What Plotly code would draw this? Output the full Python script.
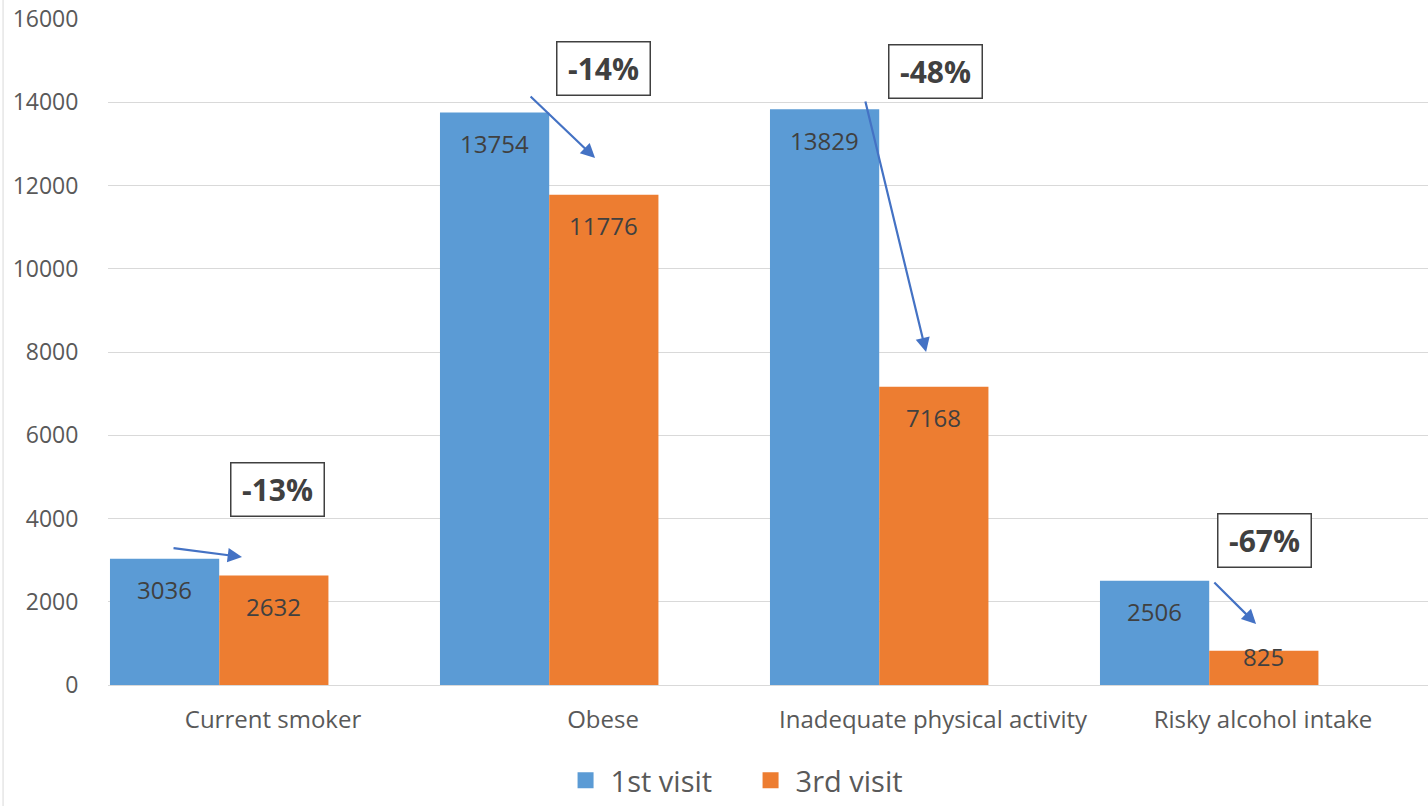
import plotly.graph_objects as go

categories = ["Current smoker", "Obese", "Inadequate physical activity", "Risky alcohol intake"]
visit1 = [3036, 13754, 13829, 2506]
visit3 = [2632, 11776, 7168, 825]
series_names = ["1st visit", "3rd visit"]
pct_labels = ["-13%", "-14%", "-48%", "-67%"]
y_ticks = [0, 2000, 4000, 6000, 8000, 10000, 12000, 14000, 16000]

BLUE = "#5B9BD5"
ORANGE = "#ED7D31"
ARROW = "#4472C4"
FONT = "Open Sans"

xpos = list(range(len(categories)))
fig = go.Figure()
bar_w = 0.331
for vals, name, color, off in [(visit1, series_names[0], BLUE, -0.494),
                               (visit3, series_names[1], ORANGE, -0.163)]:
    fig.add_trace(go.Bar(x=xpos, y=vals, name=name, marker_color=color,
                         marker_line_width=0, width=bar_w, offset=off,
                         showlegend=False, hoverinfo="skip"))
    # data labels
    for xi, v in zip(xpos, vals):
        fig.add_annotation(x=xi + off + bar_w / 2, y=v, xref="x", yref="y",
                           text=str(v), showarrow=False, yanchor="middle",
                           yshift=-31 if v > 1500 else -6,
                           font=dict(family=FONT, size=24, color="#404040"))
    # legend proxies
    fig.add_trace(go.Scatter(x=[None], y=[None], mode="markers", name=name,
                             marker=dict(symbol="square", size=18, color=color)))

# percentage boxes (centres) and arrows (tail -> head)
box_pos = [(0.015, 4708), (1.0, 14821), (2.009, 14750), (3.006, 3483)]
arrows = [((-0.306, 3291), (-0.094, 3075)),
          ((0.776, 14174), (0.976, 12660)),
          ((1.794, 14054), (1.979, 8000)),
          ((2.848, 2498), (2.979, 1465))]
for lab, (bx, by), ((tx, ty), (hx, hy)) in zip(pct_labels, box_pos, arrows):
    fig.add_annotation(x=bx, y=by, xref="x", yref="y", text="<b>%s</b>" % lab,
                       showarrow=False, width=88, height=48, borderpad=2,
                       bordercolor="#404040", borderwidth=1.5, bgcolor="white",
                       font=dict(family=FONT, size=30, color="#404040"))
    fig.add_annotation(x=hx, y=hy, ax=tx, ay=ty, xref="x", yref="y",
                       axref="x", ayref="y", text="", showarrow=True,
                       arrowhead=2, arrowsize=1.3, arrowwidth=2.2,
                       arrowcolor=ARROW)

fig.add_shape(type="line", xref="paper", yref="paper", x0=-0.0795, x1=-0.0795,
              y0=-0.2, y1=1.03, line=dict(color="#D9D9D9", width=1))

fig.update_layout(
    width=1428, height=806,
    margin=dict(l=108, r=0, t=19, b=121, autoexpand=False),
    paper_bgcolor="white", plot_bgcolor="white",
    barmode="overlay",
    font=dict(family=FONT, color="#595959"),
    legend=dict(orientation="h", x=0.483, xanchor="center",
                yref="container", y=0.0, yanchor="bottom",
                font=dict(size=29, color="#595959"),
                itemwidth=40, entrywidth=130, entrywidthmode="pixels",
                tracegroupgap=0),
    xaxis=dict(range=[-0.5, 3.5], tickmode="array", tickvals=xpos,
               ticktext=categories, showgrid=False, zeroline=False,
               showline=False, ticks="outside", ticklen=13,
               tickcolor="rgba(0,0,0,0)",
               tickfont=dict(family=FONT, size=24, color="#595959")),
    yaxis=dict(range=[0, 16000], tickmode="array", tickvals=y_ticks,
               ticktext=[str(t) for t in y_ticks], showgrid=True,
               gridcolor="#D9D9D9", gridwidth=1, zeroline=True,
               zerolinecolor="#D9D9D9", zerolinewidth=1, showline=False,
               ticks="outside", ticklen=24, tickcolor="rgba(0,0,0,0)",
               tickfont=dict(family=FONT, size=23, color="#595959")),
)

fig.write_html("out.html")
